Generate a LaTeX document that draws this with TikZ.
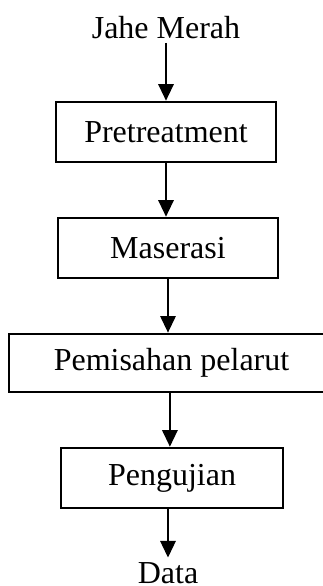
\documentclass[tikz,border=0pt]{standalone}
\usepackage{fontspec}
\setmainfont{Liberation Serif}
\usetikzlibrary{arrows.meta}

\tikzset{
  flowbox/.style={draw, line width=1pt, inner sep=0pt, minimum height=22.5pt},
  flowtext/.style={inner sep=1.5pt, anchor=base},
  flowarrow/.style={line width=0.55pt, -{Triangle[width=5.8pt,length=6.2pt]}}
}

\begin{document}
\begin{tikzpicture}[x=0.375pt, y=-0.375pt, font=\fontsize{12}{14}\selectfont]
            % Page frame
            \useasboundingbox (0,0) rectangle (323,586);
            \clip (0,0) rectangle (323,586);

            % Start and end texts
            \node[flowtext] (jahe) at (166,38) {Jahe Merah};
            \node[flowtext] (data) at (168,583) {Data};

            % Process boxes
            \node[flowbox, minimum width=82.5pt] (pre) at (166,132) {Pretreatment};
            \node[flowbox, minimum width=82.5pt] (mas) at (168,248) {Maserasi};
            \node[flowbox, minimum width=121.9pt, minimum height=21.8pt] (pem) at (171.5,363) {Pemisahan pelarut};
            \node[flowbox, minimum width=83.3pt] (uji) at (172,478) {Pengujian};

            % Arrows between steps
            \draw[flowarrow] (jahe.south) -- (jahe.south |- pre.north);
            \draw[flowarrow] (pre.south) -- (pre.south |- mas.north);
            \draw[flowarrow] (mas.south) -- (mas.south |- pem.north);
            \draw[flowarrow] ([xshift=-0.6pt]pem.south) -- ([xshift=-0.6pt]pem.south |- uji.north);
            \draw[flowarrow] (data.north |- uji.south) -- (data.north);
          \end{tikzpicture}
\end{document}
